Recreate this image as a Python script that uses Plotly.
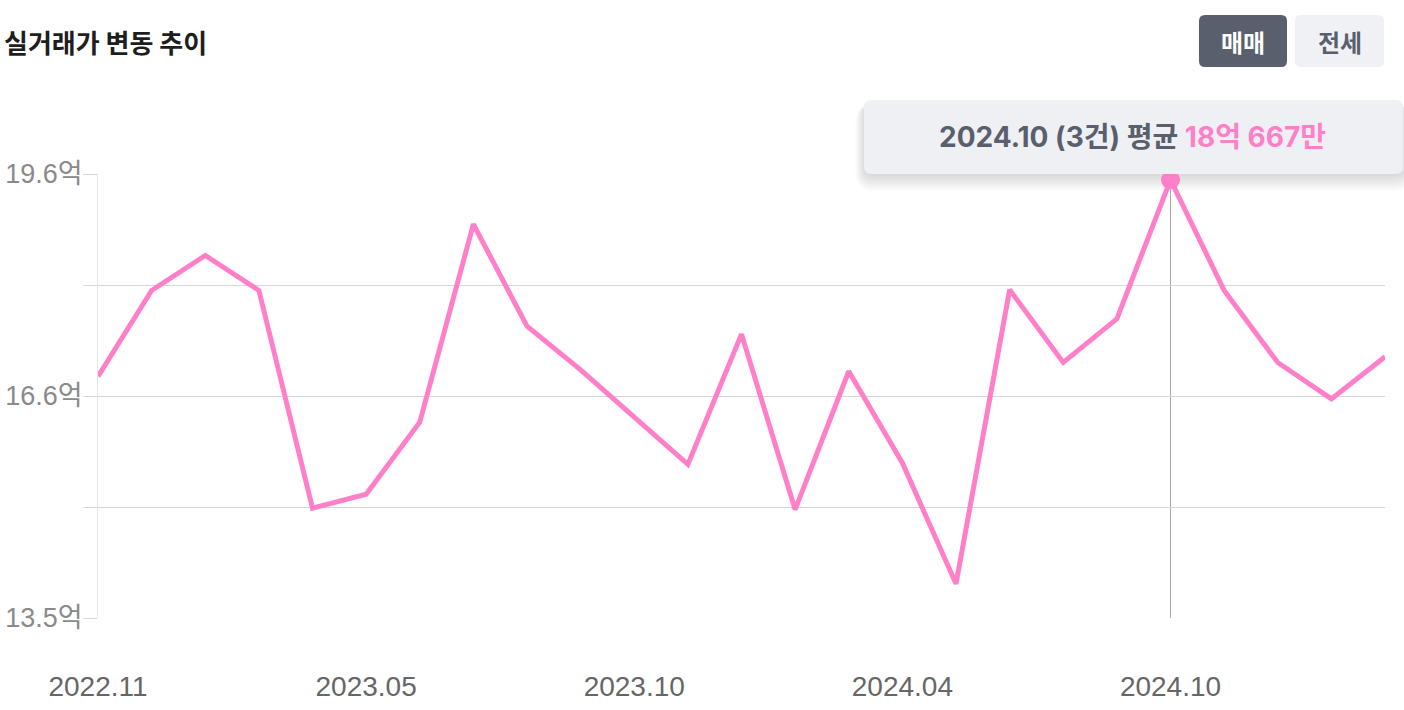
import plotly.graph_objects as go

# ---------------- data ----------------
months = ["2022.11", "2022.12", "2023.01", "2023.02", "2023.03", "2023.05", "2023.06",
          "2023.07", "2023.08", "2023.09", "2023.10", "2023.11", "2023.12", "2024.01",
          "2024.03", "2024.04", "2024.05", "2024.06", "2024.07", "2024.09", "2024.10",
          "2024.11", "2024.12", "2025.01", "2025.02"]
prices = [16.82, 18.00, 18.48, 18.00, 15.01, 15.20, 16.19, 18.91, 17.51, 16.91,
          16.26, 15.61, 17.40, 14.99, 16.89, 15.63, 13.97, 18.01, 17.01, 17.61,
          19.52, 18.00, 17.01, 16.51, 17.09]  # 억
y_tick_vals = [13.5, 15.025, 16.55, 18.075, 19.6]
y_tick_text = ["13.5억", "", "16.6억", "", "19.6억"]
x_tick_labels = ["2022.11", "2023.05", "2023.10", "2024.04", "2024.10"]
highlight_month = "2024.10"
highlight_count = 3
highlight_label = "18억 667만"
title_text = "실거래가 변동 추이"
buttons = ["매매", "전세"]

# ---------------- styling ----------------
PINK = "#ff80c8"
DARK = "#5a5f6d"
W, H = 1404, 710
L, R, T, B = 98, 19, 174, 92
PW, PH = W - L - R, H - T - B


def X(p):
    return (p - L) / PW


def Y(p):
    return (H - B - p) / PH


def rrect(x0, y0, x1, y1, r):
    return (f"M {X(x0 + r)},{Y(y0)} L {X(x1 - r)},{Y(y0)} Q {X(x1)},{Y(y0)} {X(x1)},{Y(y0 + r)} "
            f"L {X(x1)},{Y(y1 - r)} Q {X(x1)},{Y(y1)} {X(x1 - r)},{Y(y1)} "
            f"L {X(x0 + r)},{Y(y1)} Q {X(x0)},{Y(y1)} {X(x0)},{Y(y1 - r)} "
            f"L {X(x0)},{Y(y0 + r)} Q {X(x0)},{Y(y0)} {X(x0 + r)},{Y(y0)} Z")


hi = months.index(highlight_month)

fig = go.Figure()
fig.add_trace(go.Scatter(x=months, y=prices, mode="lines",
                         line=dict(color=PINK, width=5), hoverinfo="skip"))
fig.add_trace(go.Scatter(x=[months[hi]], y=[prices[hi]], mode="markers",
                         marker=dict(color=PINK, size=19), hoverinfo="skip"))

shapes = []
# crosshair
shapes.append(dict(type="line", xref="x", yref="y", x0=hi, x1=hi, y0=y_tick_vals[0], y1=prices[hi],
                   line=dict(color="#a8a8a8", width=1), layer="below"))
# tooltip shadow
for i in range(12):
    shapes.append(dict(type="path", xref="paper", yref="paper",
                       path=rrect(864 - i * 0.8, 104, 1403 + i * 0.8, 176 + i * 1.4, 8 + i),
                       fillcolor="rgba(0,0,0,0.011)", line=dict(width=0), layer="below"))
# tooltip box
shapes.append(dict(type="path", xref="paper", yref="paper", path=rrect(864, 100, 1403, 174, 7),
                   fillcolor="#eff0f4", line=dict(width=0), layer="below"))
# buttons
shapes.append(dict(type="path", xref="paper", yref="paper", path=rrect(1199, 15, 1287, 67, 6),
                   fillcolor=DARK, line=dict(width=0), layer="below"))
shapes.append(dict(type="path", xref="paper", yref="paper", path=rrect(1295, 15, 1384, 67, 6),
                   fillcolor="#f0f1f4", line=dict(width=0), layer="below"))

annotations = [
    dict(xref="paper", yref="paper", x=X(2), y=Y(42), xanchor="left", yanchor="middle",
         text=f"<b>{title_text}</b>", showarrow=False,
         font=dict(family="Noto Sans CJK KR", size=26, color="#1e1e1e")),
    dict(xref="paper", yref="paper", x=X(1243), y=Y(41), xanchor="center", yanchor="middle",
         text=f"<b>{buttons[0]}</b>", showarrow=False,
         font=dict(family="Noto Sans CJK KR", size=24, color="#ffffff")),
    dict(xref="paper", yref="paper", x=X(1339.5), y=Y(41), xanchor="center", yanchor="middle",
         text=f"<b>{buttons[1]}</b>", showarrow=False,
         font=dict(family="Noto Sans CJK KR", size=24, color=DARK)),
    dict(xref="paper", yref="paper", x=X(1132), y=Y(137), xanchor="center", yanchor="middle",
         text=(f"<b>{highlight_month} ({highlight_count}건) 평균 "
               f"<span style='color:{PINK}'>{highlight_label}</span></b>"),
         showarrow=False,
         font=dict(family="Inter, Noto Sans CJK KR", size=28, color=DARK)),
]

fig.update_layout(
    width=W, height=H,
    margin=dict(l=L, r=R, t=T, b=B, pad=0, autoexpand=False),
    paper_bgcolor="white", plot_bgcolor="white",
    showlegend=False, hovermode=False,
    shapes=shapes, annotations=annotations,
    xaxis=dict(type="category", range=[0, len(months) - 1], showgrid=False, zeroline=False,
               tickmode="array", tickvals=x_tick_labels, ticktext=x_tick_labels,
               ticks="", ticklabelstandoff=49, showline=False, automargin=False,
               tickfont=dict(family="Liberation Sans, Noto Sans CJK KR", size=28, color="#666666")),
    yaxis=dict(range=[y_tick_vals[0], y_tick_vals[-1]], tickmode="array",
               tickvals=y_tick_vals, ticktext=y_tick_text, automargin=False,
               showgrid=True, gridcolor="#d6d6d6", gridwidth=1, zeroline=False,
               ticks="outside", ticklen=14, tickcolor="#d6d6d6", tickwidth=1,
               ticklabelstandoff=-5,
               showline=True, linecolor="#e6e6e6", linewidth=1,
               tickfont=dict(family="Liberation Sans, Noto Sans CJK KR", size=27, color="#8a8a8a")),
)

fig.write_html("out.html", config={"displayModeBar": False},
               post_script="document.body.style.margin='0';")
